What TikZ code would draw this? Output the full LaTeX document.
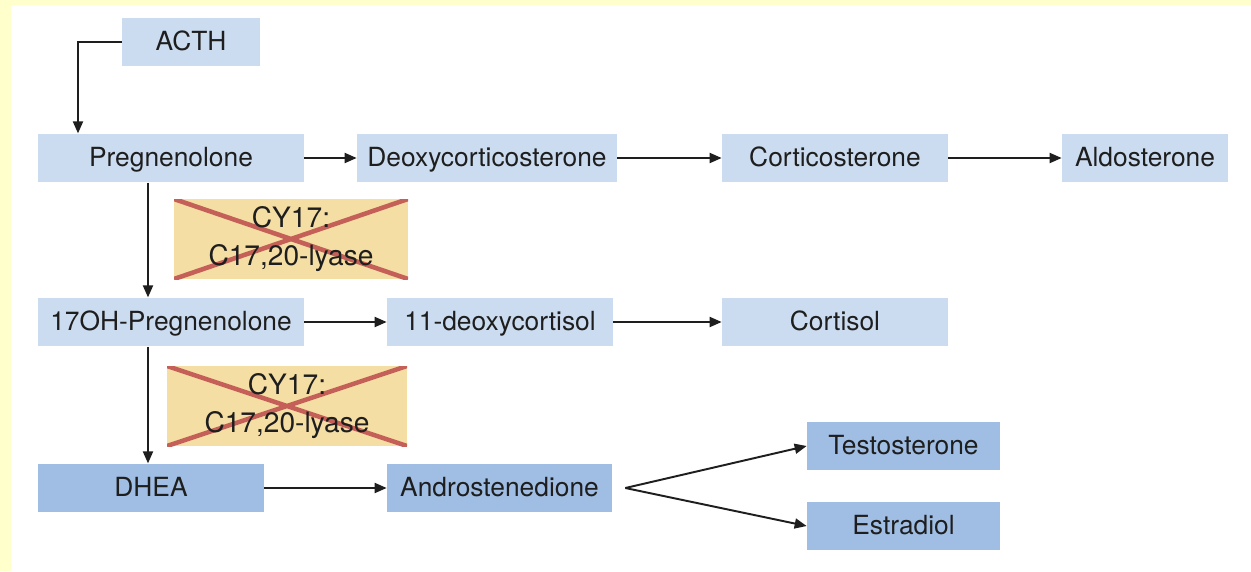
\documentclass[tikz,border=0pt]{standalone}
\usepackage{fontspec}
\setmainfont{TeX Gyre Heros}
\usepackage{tikz}
\usetikzlibrary{arrows.meta, calc}
\definecolor{panelbg}{HTML}{FFFFCC}
\definecolor{steroid}{HTML}{CCDCF0}
\definecolor{sexsteroid}{HTML}{A0BEE4}
\definecolor{enzyme}{HTML}{F5DEA4}
\definecolor{blocked}{HTML}{C46058}
\definecolor{ink}{HTML}{1E1E1E}

\begin{document}
\begin{tikzpicture}[
  hormbox/.style = {fill=steroid, minimum height=0.97cm, inner sep=0pt, text height=0.96em, text depth=0pt, align=center, text=ink, font=\fontsize{15}{18}\selectfont},
  sexbox/.style = {hormbox, fill=sexsteroid},
  enzbox/.style = {fill=enzyme, minimum width=4.7cm, minimum height=1.6cm, inner sep=0pt, align=center, text=ink, font=\fontsize{16}{21.5}\selectfont,
    path picture={\draw[blocked, line width=2.6pt]
      (path picture bounding box.north west) -- (path picture bounding box.south east)
      (path picture bounding box.south west) -- (path picture bounding box.north east);}},
  arr/.style = {-{Triangle[length=2.4mm,width=2mm]}, line width=1.1pt, color=ink},
]
\useasboundingbox (0,0) rectangle (25.02,11.42);
\fill[panelbg] (0,0) rectangle (25.02,11.42);
\fill[white] (0.22,0) rectangle (25.02,11.32);

\node[hormbox, minimum width=2.76cm] (acth) at (3.82, 10.58) {ACTH};
\node[hormbox, minimum width=5.32cm] (preg) at (3.42, 8.26) {Pregnenolone};
\node[hormbox, minimum width=5.2cm] (doc) at (9.74, 8.26) {Deoxycorticosterone};
\node[hormbox, minimum width=4.52cm] (cort) at (16.70, 8.26) {Corticosterone};
\node[hormbox, minimum width=3.32cm] (aldo) at (22.90, 8.26) {Aldosterone};

\node[enzbox, minimum width=4.68cm] (lyaseA) at (5.82, 6.64) {CY17:\\C17,20-lyase};

\node[hormbox, minimum width=5.32cm] (ohpreg) at (3.42, 4.98) {17OH-Pregnenolone};
\node[hormbox, minimum width=4.52cm] (deoxcort) at (10.0, 4.98) {11-deoxycortisol};
\node[hormbox, minimum width=4.52cm] (cortisol) at (16.70, 4.98) {Cortisol};

\node[enzbox, minimum width=4.8cm] (lyaseB) at (5.74, 3.30) {CY17:\\C17,20-lyase};

\node[sexbox, minimum width=4.52cm] (dhea) at (3.02, 1.66) {DHEA};
\node[sexbox, minimum width=4.5cm] (andro) at (9.99, 1.66) {Androstenedione};
\node[sexbox, minimum width=3.86cm] (testo) at (18.07, 2.50) {Testosterone};
\node[sexbox, minimum width=3.86cm] (estra) at (18.07, 0.90) {Estradiol};

\coordinate (acthx) at (1.56, 0);
\coordinate (trunk) at (2.96, 0);
\coordinate (fork) at ($(andro.east)+(0.26,0)$);

\draw[arr] (acth.west) -| (preg.north -| acthx);
\draw[arr] (preg.east) -- (doc.west);
\draw[arr] (doc.east) -- (cort.west);
\draw[arr] (cort.east) -- (aldo.west);
\draw[arr] (preg.south -| trunk) -- (ohpreg.north -| trunk);
\draw[arr] (ohpreg.east) -- (deoxcort.west);
\draw[arr] (deoxcort.east) -- (cortisol.west);
\draw[arr] (ohpreg.south -| trunk) -- (dhea.north -| trunk);
\draw[arr] (dhea.east) -- (andro.west);
\draw[arr] (fork) -- (testo.west);
\draw[arr] (fork) -- (estra.west);
\end{tikzpicture}
\end{document}
